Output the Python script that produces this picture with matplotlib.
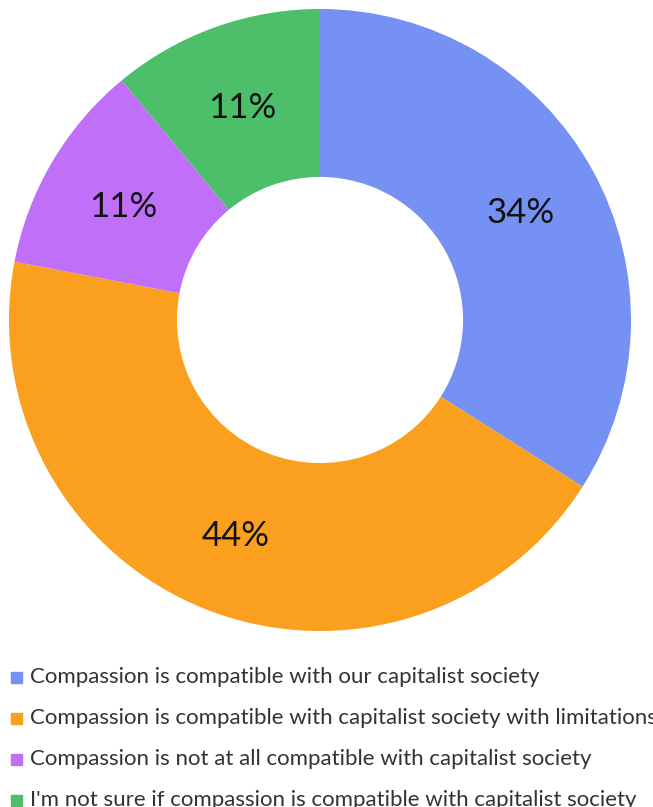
import matplotlib.pyplot as plt
from matplotlib.patches import Rectangle

labels = [
    "Compassion is compatible with our capitalist society",
    "Compassion is compatible with capitalist society with limitations",
    "Compassion is not at all compatible with capitalist society",
    "I'm not sure if compassion is compatible with capitalist society",
]
shares = [34, 44, 11, 11]
colors = ["#7591F3", "#FBA01E", "#C070F8", "#4DBF6A"]

W, H = 653, 807
fig = plt.figure(figsize=(W / 100, H / 100), dpi=100)
ax = fig.add_axes([9 / W, (H - 631) / H, 622 / W, 622 / H])

wedges, texts = ax.pie(
    shares,
    colors=colors,
    startangle=90,
    counterclock=False,
    radius=1.0,
    labels=[f"{s}%" for s in shares],
    labeldistance=0.735,
    wedgeprops=dict(width=0.54, linewidth=0),
    textprops=dict(fontsize=25, family="Lato", color="#111111"),
)
for t in texts:
    t.set_ha("center")
    t.set_va("center_baseline")
ax.set_xlim(-1, 1)
ax.set_ylim(-1, 1)
ax.set_aspect("equal")
ax.axis("off")

# legend rows drawn by hand
y0 = 677
for i, (lab, col) in enumerate(zip(labels, colors)):
    y = y0 + i * 41
    fig.patches.append(Rectangle((11 / W, (H - y - 6) / H), 11 / W, 11 / H,
                                 transform=fig.transFigure, color=col))
    fig.text(30 / W, (H - y) / H, lab, fontsize=16, family="Lato",
             color="#333333", va="center", ha="left")

fig.savefig("out.png", dpi=100)
